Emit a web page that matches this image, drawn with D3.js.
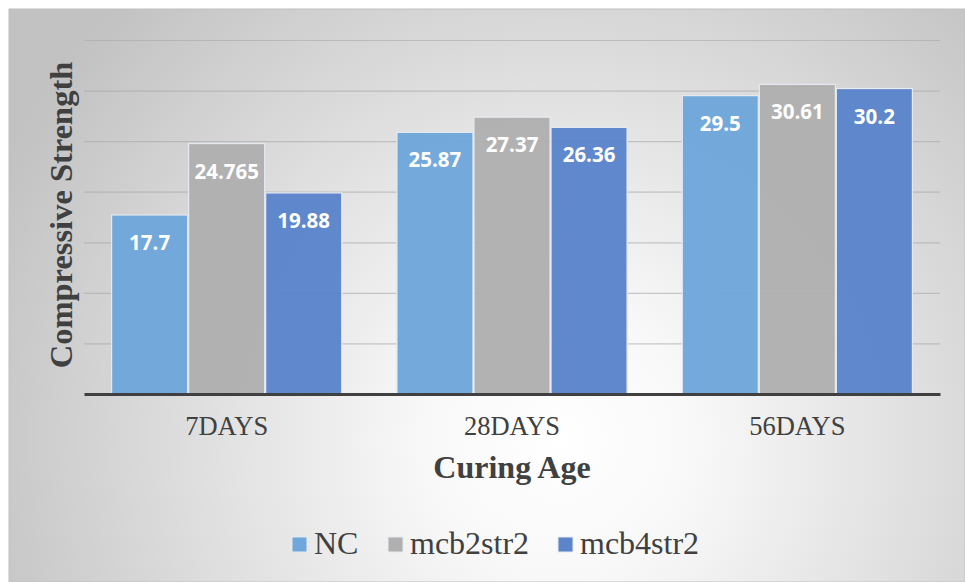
<!DOCTYPE html>
<html><head><meta charset="utf-8">
<script src="https://cdn.jsdelivr.net/npm/d3@7"></script>
<style>html,body{margin:0;padding:0;background:#fff;}svg{display:block;}</style>
</head><body>
<svg id="chart" width="965" height="582"></svg>
<script>
const categories = ["7DAYS", "28DAYS", "56DAYS"];
const seriesNames = ["NC", "mcb2str2", "mcb4str2"];
const NC = [17.7, 25.87, 29.5];
const mcb2str2 = [24.765, 27.37, 30.61];
const mcb4str2 = [19.88, 26.36, 30.2];
const valueLabels = [["17.7","25.87","29.5"],["24.765","27.37","30.61"],["19.88","26.36","30.2"]];
const yTicks = [0, 5, 10, 15, 20, 25, 30, 35];
const colors = ["#6fa7da", "#b0b0b0", "#5b84ca"];

(function(){
const series = [NC, mcb2str2, mcb4str2];
const svg = d3.select("#chart");

const defs = svg.append("defs");
const rg = defs.append("radialGradient").attr("id","bg")
  .attr("gradientUnits","userSpaceOnUse")
  .attr("cx",560).attr("cy",440).attr("r",620);
rg.append("stop").attr("offset","0%").attr("stop-color","#ffffff");
rg.append("stop").attr("offset","22%").attr("stop-color","#f8f8f8");
rg.append("stop").attr("offset","100%").attr("stop-color","#c2c2c2");
svg.append("rect").attr("x",9).attr("y",9).attr("width",956).attr("height",573)
  .attr("fill","url(#bg)").attr("stroke","#c0c0c0").attr("stroke-width",1);

const pLeft = 84, pRight = 940, pTop = 40, pBottom = 394;
const x0 = d3.scaleBand().domain(categories).range([pLeft, pRight]).paddingInner(0.19).paddingOuter(0.095);
const x1 = d3.scaleBand().domain(seriesNames).range([0, x0.bandwidth()]).padding(0);
const y = d3.scaleLinear().domain([0, 35]).range([pBottom, pTop]);

const grid = d3.axisLeft(y).tickValues(yTicks.slice(1)).tickSize(-(pRight-pLeft)).tickFormat("");
const gg = svg.append("g").attr("transform",`translate(${pLeft},0)`).call(grid);
gg.select(".domain").remove();
gg.selectAll("line").attr("stroke","#a8a8a8").attr("stroke-opacity",0.6).attr("stroke-width",1.2);

const groups = svg.append("g").selectAll("g").data(categories).join("g")
  .attr("transform", d => `translate(${x0(d)},0)`);
groups.each(function(cat, ci){
  const g = d3.select(this);
  seriesNames.forEach((s, si) => {
    const v = series[si][ci];
    g.append("rect")
      .attr("x", x1(s)+0.5).attr("y", y(v))
      .attr("width", x1.bandwidth()-1).attr("height", y(0)-y(v))
      .attr("fill", colors[si]).attr("fill-opacity",0.97)
      .attr("stroke","#e6eaf0").attr("stroke-width",1.2);
    g.append("text")
      .attr("x", x1(s)+x1.bandwidth()/2).attr("y", y(v)+35)
      .attr("text-anchor","middle")
      .attr("font-family","'Open Sans', 'Liberation Sans', sans-serif")
      .attr("font-weight","bold").attr("font-size",20.5)
      .attr("fill","#ffffff")
      .text(valueLabels[si][ci]);
  });
});

const xa = svg.append("g").attr("transform",`translate(0,${pBottom})`)
  .call(d3.axisBottom(x0).tickSize(0).tickPadding(0));
xa.select(".domain").attr("stroke","#404040").attr("stroke-width",3);
xa.selectAll("text").attr("y",41).attr("dy",0)
  .attr("font-family","'Liberation Serif', 'Times New Roman', serif")
  .attr("font-size",26.5).attr("fill","#404040");

svg.append("text").attr("x",(pLeft+pRight)/2).attr("y",478)
  .attr("text-anchor","middle")
  .attr("font-family","'Liberation Serif', 'Times New Roman', serif")
  .attr("font-weight","bold").attr("font-size",32).attr("fill","#404040")
  .text("Curing Age");
svg.append("text").attr("transform","translate(72,215) rotate(-90)")
  .attr("text-anchor","middle")
  .attr("font-family","'Liberation Serif', 'Times New Roman', serif")
  .attr("font-weight","bold").attr("font-size",32.5).attr("fill","#404040")
  .text("Compressive Strength");

const legX = [292, 388, 558];
const leg = svg.append("g");
seriesNames.forEach((s, i) => {
  leg.append("rect").attr("x",legX[i]).attr("y",537).attr("width",15).attr("height",15)
    .attr("fill",colors[i]).attr("stroke","#e6eaf0").attr("stroke-width",1);
  leg.append("text").attr("x",legX[i]+22).attr("y",554)
    .attr("font-family","'Liberation Serif', 'Times New Roman', serif")
    .attr("font-size",32).attr("fill","#404040").text(s);
});
})();
</script>
</body></html>
